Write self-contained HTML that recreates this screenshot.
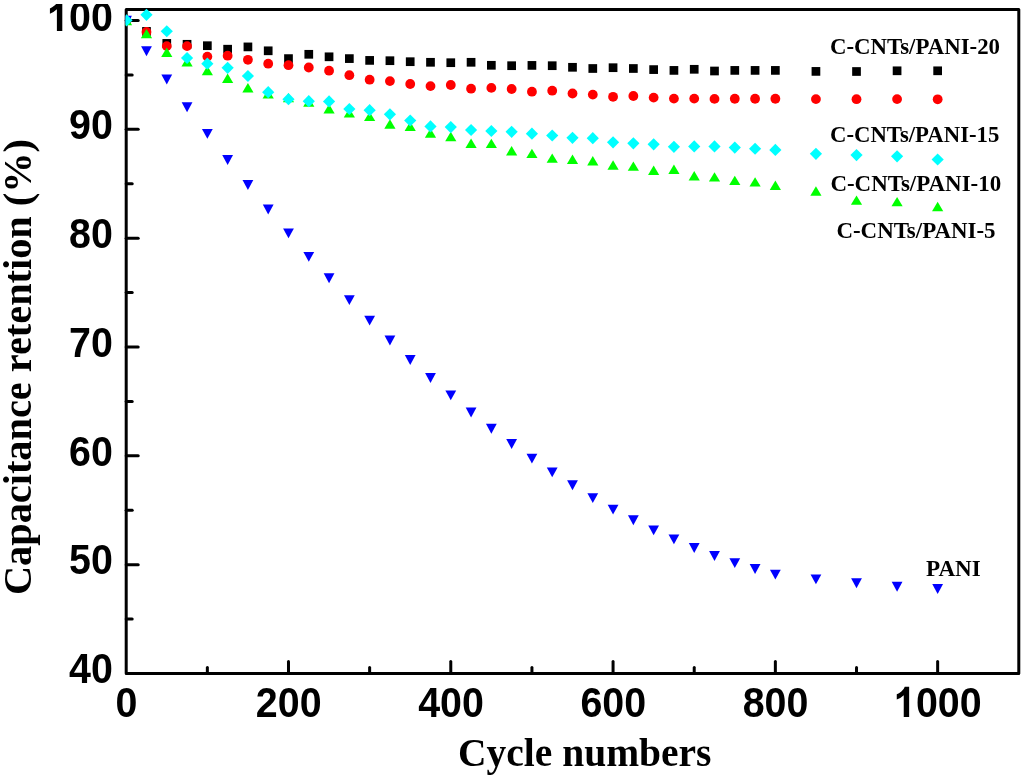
<!DOCTYPE html>
<html>
<head>
<meta charset="utf-8">
<title>Capacitance retention vs cycle numbers</title>
<style>
html,body{margin:0;padding:0;background:#ffffff;}
body{width:1024px;height:778px;overflow:hidden;}
svg{display:block;will-change:transform;}
.sans{font-family:"Liberation Sans",sans-serif;font-weight:bold;font-size:42px;fill:#000;}
.serif{font-family:"Liberation Serif",serif;font-weight:bold;fill:#000;}
</style>
</head>
<body>
<svg width="1024" height="778" viewBox="0 0 1024 778">
<defs><clipPath id="c100"><rect x="0" y="4" width="125" height="60"/></clipPath><clipPath id="pc"><rect x="125.5" y="8" width="894.5" height="667"/></clipPath></defs>
<rect x="0" y="0" width="1024" height="778" fill="#ffffff"/>
<rect x="126.2" y="9.5" width="892.6" height="664" fill="none" stroke="#000" stroke-width="3" stroke-linejoin="round"/>
<g stroke="#000" stroke-width="3" stroke-linecap="round">
<line x1="126.2" y1="619.08" x2="132.2" y2="619.08"/>
<line x1="126.2" y1="564.67" x2="138.2" y2="564.67"/>
<line x1="126.2" y1="510.25" x2="132.2" y2="510.25"/>
<line x1="126.2" y1="455.83" x2="138.2" y2="455.83"/>
<line x1="126.2" y1="401.42" x2="132.2" y2="401.42"/>
<line x1="126.2" y1="347" x2="138.2" y2="347"/>
<line x1="126.2" y1="292.58" x2="132.2" y2="292.58"/>
<line x1="126.2" y1="238.17" x2="138.2" y2="238.17"/>
<line x1="126.2" y1="183.75" x2="132.2" y2="183.75"/>
<line x1="126.2" y1="129.33" x2="138.2" y2="129.33"/>
<line x1="126.2" y1="74.92" x2="132.2" y2="74.92"/>
<line x1="126.2" y1="20.5" x2="138.2" y2="20.5"/>
<line x1="207.35" y1="673.5" x2="207.35" y2="667.5"/>
<line x1="288.49" y1="673.5" x2="288.49" y2="661.5"/>
<line x1="369.64" y1="673.5" x2="369.64" y2="667.5"/>
<line x1="450.78" y1="673.5" x2="450.78" y2="661.5"/>
<line x1="531.93" y1="673.5" x2="531.93" y2="667.5"/>
<line x1="613.07" y1="673.5" x2="613.07" y2="661.5"/>
<line x1="694.22" y1="673.5" x2="694.22" y2="667.5"/>
<line x1="775.36" y1="673.5" x2="775.36" y2="661.5"/>
<line x1="856.51" y1="673.5" x2="856.51" y2="667.5"/>
<line x1="937.65" y1="673.5" x2="937.65" y2="661.5"/>
</g>
<g clip-path="url(#pc)">
<g fill="#000000">
<rect x="122.15" y="16.15" width="8.7" height="8.7"/>
<rect x="142.14" y="27.05" width="8.7" height="8.7"/>
<rect x="162.42" y="39.05" width="8.7" height="8.7"/>
<rect x="182.71" y="39.95" width="8.7" height="8.7"/>
<rect x="203" y="41.35" width="8.7" height="8.7"/>
<rect x="223.28" y="44.85" width="8.7" height="8.7"/>
<rect x="243.57" y="42.55" width="8.7" height="8.7"/>
<rect x="263.85" y="46.45" width="8.7" height="8.7"/>
<rect x="284.14" y="54.25" width="8.7" height="8.7"/>
<rect x="304.43" y="49.95" width="8.7" height="8.7"/>
<rect x="324.71" y="52.45" width="8.7" height="8.7"/>
<rect x="345" y="54.25" width="8.7" height="8.7"/>
<rect x="365.29" y="56.05" width="8.7" height="8.7"/>
<rect x="385.57" y="56.35" width="8.7" height="8.7"/>
<rect x="405.86" y="57.35" width="8.7" height="8.7"/>
<rect x="426.15" y="57.95" width="8.7" height="8.7"/>
<rect x="446.43" y="58.35" width="8.7" height="8.7"/>
<rect x="466.72" y="57.95" width="8.7" height="8.7"/>
<rect x="487" y="60.95" width="8.7" height="8.7"/>
<rect x="507.29" y="61.35" width="8.7" height="8.7"/>
<rect x="527.58" y="61.05" width="8.7" height="8.7"/>
<rect x="547.86" y="61.35" width="8.7" height="8.7"/>
<rect x="568.15" y="62.95" width="8.7" height="8.7"/>
<rect x="588.44" y="64.15" width="8.7" height="8.7"/>
<rect x="608.72" y="63.35" width="8.7" height="8.7"/>
<rect x="629.01" y="64.15" width="8.7" height="8.7"/>
<rect x="649.3" y="65.25" width="8.7" height="8.7"/>
<rect x="669.58" y="66.05" width="8.7" height="8.7"/>
<rect x="689.87" y="64.95" width="8.7" height="8.7"/>
<rect x="710.15" y="66.65" width="8.7" height="8.7"/>
<rect x="730.44" y="66.05" width="8.7" height="8.7"/>
<rect x="750.73" y="66.05" width="8.7" height="8.7"/>
<rect x="771.01" y="66.05" width="8.7" height="8.7"/>
<rect x="811.59" y="67.05" width="8.7" height="8.7"/>
<rect x="852.16" y="67.15" width="8.7" height="8.7"/>
<rect x="892.73" y="66.45" width="8.7" height="8.7"/>
<rect x="933.3" y="66.45" width="8.7" height="8.7"/>
</g>
<g fill="#ff0000">
<circle cx="126.5" cy="20.5" r="4.9"/>
<circle cx="146.49" cy="32" r="4.9"/>
<circle cx="166.77" cy="46.1" r="4.9"/>
<circle cx="187.06" cy="46.1" r="4.9"/>
<circle cx="207.35" cy="56.6" r="4.9"/>
<circle cx="227.63" cy="55.7" r="4.9"/>
<circle cx="247.92" cy="59.8" r="4.9"/>
<circle cx="268.2" cy="63.7" r="4.9"/>
<circle cx="288.49" cy="65.2" r="4.9"/>
<circle cx="308.78" cy="67.5" r="4.9"/>
<circle cx="329.06" cy="70.7" r="4.9"/>
<circle cx="349.35" cy="75.2" r="4.9"/>
<circle cx="369.64" cy="79.7" r="4.9"/>
<circle cx="389.92" cy="81.1" r="4.9"/>
<circle cx="410.21" cy="84" r="4.9"/>
<circle cx="430.5" cy="86.1" r="4.9"/>
<circle cx="450.78" cy="85" r="4.9"/>
<circle cx="471.07" cy="88.7" r="4.9"/>
<circle cx="491.35" cy="87.9" r="4.9"/>
<circle cx="511.64" cy="89" r="4.9"/>
<circle cx="531.93" cy="91.7" r="4.9"/>
<circle cx="552.21" cy="90.7" r="4.9"/>
<circle cx="572.5" cy="93.5" r="4.9"/>
<circle cx="592.79" cy="94.6" r="4.9"/>
<circle cx="613.07" cy="96.8" r="4.9"/>
<circle cx="633.36" cy="96" r="4.9"/>
<circle cx="653.65" cy="97.6" r="4.9"/>
<circle cx="673.93" cy="98.6" r="4.9"/>
<circle cx="694.22" cy="98.6" r="4.9"/>
<circle cx="714.5" cy="98.9" r="4.9"/>
<circle cx="734.79" cy="98.75" r="4.9"/>
<circle cx="755.08" cy="98.75" r="4.9"/>
<circle cx="775.36" cy="98.75" r="4.9"/>
<circle cx="815.94" cy="99.1" r="4.9"/>
<circle cx="856.51" cy="99.2" r="4.9"/>
<circle cx="897.08" cy="99.1" r="4.9"/>
<circle cx="937.65" cy="99.3" r="4.9"/>
</g>
<g fill="#00ff00">
<path d="M126.5 15.8L132.1 25.2L120.9 25.2Z"/>
<path d="M146.49 28.9L152.09 38.3L140.89 38.3Z"/>
<path d="M166.77 47.6L172.37 57L161.17 57Z"/>
<path d="M187.06 57L192.66 66.4L181.46 66.4Z"/>
<path d="M207.35 65.8L212.95 75.2L201.75 75.2Z"/>
<path d="M227.63 73.6L233.23 83L222.03 83Z"/>
<path d="M247.92 83L253.52 92.4L242.32 92.4Z"/>
<path d="M268.2 89.05L273.8 98.45L262.6 98.45Z"/>
<path d="M288.49 92.9L294.09 102.3L282.89 102.3Z"/>
<path d="M308.78 97.3L314.38 106.7L303.18 106.7Z"/>
<path d="M329.06 104.1L334.66 113.5L323.46 113.5Z"/>
<path d="M349.35 108.2L354.95 117.6L343.75 117.6Z"/>
<path d="M369.64 111.7L375.24 121.1L364.04 121.1Z"/>
<path d="M389.92 119.3L395.52 128.7L384.32 128.7Z"/>
<path d="M410.21 121.5L415.81 130.9L404.61 130.9Z"/>
<path d="M430.5 128.3L436.1 137.7L424.9 137.7Z"/>
<path d="M450.78 131.8L456.38 141.2L445.18 141.2Z"/>
<path d="M471.07 138.6L476.67 148L465.47 148Z"/>
<path d="M491.35 138.7L496.95 148.1L485.75 148.1Z"/>
<path d="M511.64 146L517.24 155.4L506.04 155.4Z"/>
<path d="M531.93 148.7L537.53 158.1L526.33 158.1Z"/>
<path d="M552.21 153.4L557.81 162.8L546.61 162.8Z"/>
<path d="M572.5 154.6L578.1 164L566.9 164Z"/>
<path d="M592.79 156.1L598.39 165.5L587.19 165.5Z"/>
<path d="M613.07 160.3L618.67 169.7L607.47 169.7Z"/>
<path d="M633.36 161.4L638.96 170.8L627.76 170.8Z"/>
<path d="M653.65 165.5L659.25 174.9L648.05 174.9Z"/>
<path d="M673.93 164.6L679.53 174L668.33 174Z"/>
<path d="M694.22 171.1L699.82 180.5L688.62 180.5Z"/>
<path d="M714.5 172.2L720.1 181.6L708.9 181.6Z"/>
<path d="M734.79 175.7L740.39 185.1L729.19 185.1Z"/>
<path d="M755.08 177.2L760.68 186.6L749.48 186.6Z"/>
<path d="M775.36 180.6L780.96 190L769.76 190Z"/>
<path d="M815.94 186.3L821.54 195.7L810.34 195.7Z"/>
<path d="M856.51 195.4L862.11 204.8L850.91 204.8Z"/>
<path d="M897.08 196.9L902.68 206.3L891.48 206.3Z"/>
<path d="M937.65 201.8L943.25 211.2L932.05 211.2Z"/>
</g>
<g fill="#0000ff">
<path d="M121.1 15.8L131.9 15.8L126.5 25.7Z"/>
<path d="M141.09 46.3L151.89 46.3L146.49 56.2Z"/>
<path d="M161.37 74.6L172.17 74.6L166.77 84.5Z"/>
<path d="M181.66 102.3L192.46 102.3L187.06 112.2Z"/>
<path d="M201.95 128.9L212.75 128.9L207.35 138.8Z"/>
<path d="M222.23 155.1L233.03 155.1L227.63 165Z"/>
<path d="M242.52 180.1L253.32 180.1L247.92 190Z"/>
<path d="M262.8 204.5L273.6 204.5L268.2 214.4Z"/>
<path d="M283.09 228.4L293.89 228.4L288.49 238.3Z"/>
<path d="M303.38 251.9L314.18 251.9L308.78 261.8Z"/>
<path d="M323.66 273.3L334.46 273.3L329.06 283.2Z"/>
<path d="M343.95 295.2L354.75 295.2L349.35 305.1Z"/>
<path d="M364.24 315.7L375.04 315.7L369.64 325.6Z"/>
<path d="M384.52 335.5L395.32 335.5L389.92 345.4Z"/>
<path d="M404.81 355L415.61 355L410.21 364.9Z"/>
<path d="M425.1 373.1L435.9 373.1L430.5 383Z"/>
<path d="M445.38 390.4L456.18 390.4L450.78 400.3Z"/>
<path d="M465.67 407.6L476.47 407.6L471.07 417.5Z"/>
<path d="M485.95 423.8L496.75 423.8L491.35 433.7Z"/>
<path d="M506.24 439.05L517.04 439.05L511.64 448.95Z"/>
<path d="M526.53 453.7L537.33 453.7L531.93 463.6Z"/>
<path d="M546.81 467.4L557.61 467.4L552.21 477.3Z"/>
<path d="M567.1 480.3L577.9 480.3L572.5 490.2Z"/>
<path d="M587.39 493.2L598.19 493.2L592.79 503.1Z"/>
<path d="M607.67 504.7L618.47 504.7L613.07 514.6Z"/>
<path d="M627.96 515.3L638.76 515.3L633.36 525.2Z"/>
<path d="M648.25 525.4L659.05 525.4L653.65 535.3Z"/>
<path d="M668.53 534.4L679.33 534.4L673.93 544.3Z"/>
<path d="M688.82 543L699.62 543L694.22 552.9Z"/>
<path d="M709.1 551L719.9 551L714.5 560.9Z"/>
<path d="M729.39 558.2L740.19 558.2L734.79 568.1Z"/>
<path d="M749.68 564.1L760.48 564.1L755.08 574Z"/>
<path d="M769.96 569.7L780.76 569.7L775.36 579.6Z"/>
<path d="M810.54 574.4L821.34 574.4L815.94 584.3Z"/>
<path d="M851.11 578.3L861.91 578.3L856.51 588.2Z"/>
<path d="M891.68 581.8L902.48 581.8L897.08 591.7Z"/>
<path d="M932.25 584.1L943.05 584.1L937.65 594Z"/>
</g>
<g fill="#00ffff">
<path d="M126.5 14.2L132.6 20.3L126.5 26.4L120.4 20.3Z"/>
<path d="M146.49 8.7L152.59 14.8L146.49 20.9L140.39 14.8Z"/>
<path d="M166.77 25.15L172.87 31.25L166.77 37.35L160.67 31.25Z"/>
<path d="M187.06 51.9L193.16 58L187.06 64.1L180.96 58Z"/>
<path d="M207.35 57.6L213.45 63.7L207.35 69.8L201.25 63.7Z"/>
<path d="M227.63 61.7L233.73 67.8L227.63 73.9L221.53 67.8Z"/>
<path d="M247.92 69.9L254.02 76L247.92 82.1L241.82 76Z"/>
<path d="M268.2 86.1L274.3 92.2L268.2 98.3L262.1 92.2Z"/>
<path d="M288.49 93.1L294.59 99.2L288.49 105.3L282.39 99.2Z"/>
<path d="M308.78 95.1L314.88 101.2L308.78 107.3L302.68 101.2Z"/>
<path d="M329.06 95.3L335.16 101.4L329.06 107.5L322.96 101.4Z"/>
<path d="M349.35 102.9L355.45 109L349.35 115.1L343.25 109Z"/>
<path d="M369.64 104.1L375.74 110.2L369.64 116.3L363.54 110.2Z"/>
<path d="M389.92 108.2L396.02 114.3L389.92 120.4L383.82 114.3Z"/>
<path d="M410.21 114.4L416.31 120.5L410.21 126.6L404.11 120.5Z"/>
<path d="M430.5 120.3L436.6 126.4L430.5 132.5L424.4 126.4Z"/>
<path d="M450.78 121L456.88 127.1L450.78 133.2L444.68 127.1Z"/>
<path d="M471.07 123.9L477.17 130L471.07 136.1L464.97 130Z"/>
<path d="M491.35 124.9L497.45 131L491.35 137.1L485.25 131Z"/>
<path d="M511.64 125.7L517.74 131.8L511.64 137.9L505.54 131.8Z"/>
<path d="M531.93 127.6L538.03 133.7L531.93 139.8L525.83 133.7Z"/>
<path d="M552.21 129.4L558.31 135.5L552.21 141.6L546.11 135.5Z"/>
<path d="M572.5 131.7L578.6 137.8L572.5 143.9L566.4 137.8Z"/>
<path d="M592.79 132.1L598.89 138.2L592.79 144.3L586.69 138.2Z"/>
<path d="M613.07 136.2L619.17 142.3L613.07 148.4L606.97 142.3Z"/>
<path d="M633.36 137.2L639.46 143.3L633.36 149.4L627.26 143.3Z"/>
<path d="M653.65 138.2L659.75 144.3L653.65 150.4L647.55 144.3Z"/>
<path d="M673.93 140.7L680.03 146.8L673.93 152.9L667.83 146.8Z"/>
<path d="M694.22 140.3L700.32 146.4L694.22 152.5L688.12 146.4Z"/>
<path d="M714.5 140.3L720.6 146.4L714.5 152.5L708.4 146.4Z"/>
<path d="M734.79 141.5L740.89 147.6L734.79 153.7L728.69 147.6Z"/>
<path d="M755.08 142.65L761.18 148.75L755.08 154.85L748.98 148.75Z"/>
<path d="M775.36 143.8L781.46 149.9L775.36 156L769.26 149.9Z"/>
<path d="M815.94 147.7L822.04 153.8L815.94 159.9L809.84 153.8Z"/>
<path d="M856.51 149L862.61 155.1L856.51 161.2L850.41 155.1Z"/>
<path d="M897.08 150.2L903.18 156.3L897.08 162.4L890.98 156.3Z"/>
<path d="M937.65 153.4L943.75 159.5L937.65 165.6L931.55 159.5Z"/>
</g>
</g>
<g class="sans">
<text x="69.1" y="683.3" textLength="43.8" lengthAdjust="spacingAndGlyphs">40</text>
<text x="69.1" y="574.47" textLength="43.8" lengthAdjust="spacingAndGlyphs">50</text>
<text x="69.1" y="465.63" textLength="43.8" lengthAdjust="spacingAndGlyphs">60</text>
<text x="69.1" y="356.8" textLength="43.8" lengthAdjust="spacingAndGlyphs">70</text>
<text x="69.1" y="247.97" textLength="43.8" lengthAdjust="spacingAndGlyphs">80</text>
<text x="69.1" y="139.13" textLength="43.8" lengthAdjust="spacingAndGlyphs">90</text>
<g clip-path="url(#c100)">
<path d="M806 0H525V1059Q371 915 162 846V1101Q272 1137 401 1237.5T578 1472H806Z" transform="translate(46.8 31) scale(0.019227 -0.020508)"/>
<text x="69.1" y="31" textLength="43.8" lengthAdjust="spacingAndGlyphs">00</text>
</g>
<text x="115.45" y="716.9" textLength="21.9" lengthAdjust="spacingAndGlyphs">0</text>
<text x="255.84" y="716.9" textLength="65.7" lengthAdjust="spacingAndGlyphs">200</text>
<text x="418.13" y="716.9" textLength="65.7" lengthAdjust="spacingAndGlyphs">400</text>
<text x="580.42" y="716.9" textLength="65.7" lengthAdjust="spacingAndGlyphs">600</text>
<text x="742.71" y="716.9" textLength="65.7" lengthAdjust="spacingAndGlyphs">800</text>
<path d="M806 0H525V1059Q371 915 162 846V1101Q272 1137 401 1237.5T578 1472H806Z" transform="translate(893.65 716.9) scale(0.019227 -0.020508)"/>
<text x="915.95" y="716.9" textLength="65.7" lengthAdjust="spacingAndGlyphs">000</text>
</g>
<g class="serif" font-size="24">
<text x="830" y="54.2" textLength="170" lengthAdjust="spacingAndGlyphs">C-CNTs/PANI-20</text>
<text x="830" y="142" textLength="169.3" lengthAdjust="spacingAndGlyphs">C-CNTs/PANI-15</text>
<text x="830.4" y="191.4" textLength="170.8" lengthAdjust="spacingAndGlyphs">C-CNTs/PANI-10</text>
<text x="836.4" y="237.6" textLength="159.2" lengthAdjust="spacingAndGlyphs">C-CNTs/PANI-5</text>
<text x="926" y="576" textLength="54.8" lengthAdjust="spacingAndGlyphs">PANI</text>
</g>
<g class="serif" font-size="40">
<text x="458" y="766" textLength="253.5" lengthAdjust="spacingAndGlyphs">Cycle numbers</text>
<text transform="translate(31.3 595) rotate(-90)" x="0" y="0" textLength="456" lengthAdjust="spacingAndGlyphs">Capacitance retention (%)</text>
</g>
</svg>
</body>
</html>
